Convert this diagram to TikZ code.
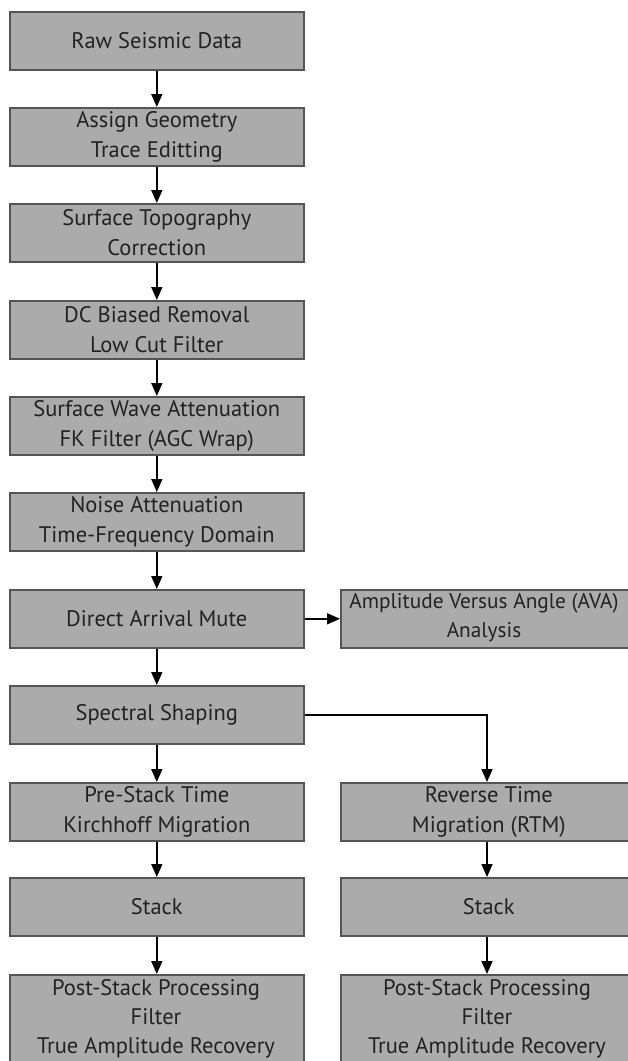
\documentclass[tikz,border=0pt]{standalone}
\usepackage{fontspec}
\setmainfont{PT Sans}
\usetikzlibrary{arrows.meta}
\definecolor{boxfill}{HTML}{ABABAB}
\definecolor{boxline}{HTML}{555555}
\definecolor{txt}{HTML}{222222}
\begin{document}
\begin{tikzpicture}[x=1pt,y=-1pt,
  box/.style={draw=boxline,fill=boxfill,line width=1.6pt,minimum height=58pt,
    inner sep=0pt,anchor=north west,align=center,text=txt,
    font=\fontsize{22.5}{30}\selectfont},
  lbox/.style={box,minimum width=294pt},
  rbox/.style={box,minimum width=296pt},
  arr/.style={-{Triangle[length=13pt,width=11pt]},line width=1.6pt,black}]
\useasboundingbox (0,0) rectangle (628,1061);
\node[lbox] (raw) at (9,11) {Raw Seismic Data};
\node[lbox] (geo) at (9,107) {Assign Geometry\\Trace Editting};
\node[lbox] (topo) at (9,203) {Surface Topography\\Correction};
\node[lbox] (dc) at (9,300) {DC Biased Removal\\Low Cut Filter};
\node[lbox] (sw) at (9,396) {Surface Wave Attenuation\\FK Filter (AGC Wrap)};
\node[lbox] (noise) at (9,492) {Noise Attenuation\\Time-Frequency Domain};
\node[lbox] (dam) at (9,589) {Direct Arrival Mute};
\node[rbox] (ava) at (340,589) {};
\node[align=center,text=txt,font=\fontsize{21.3}{29}\selectfont] (avat) at (484,618) {Amplitude Versus Angle (AVA)\\Analysis};
\node[lbox] (spec) at (9,685) {Spectral Shaping};
\node[lbox] (pstm) at (9,782) {Pre-Stack Time\\Kirchhoff Migration};
\node[rbox] (rtm) at (340,782) {Reverse Time\\Migration (RTM)};
\node[lbox] (stl) at (9,877) {Stack};
\node[rbox] (str) at (340,877) {Stack};
\node[lbox,minimum height=100pt] (ppl) at (9,974) {};
\node[rbox,minimum height=100pt] (ppr) at (340,974) {};
\node[align=center,text=txt,font=\fontsize{22.5}{29}\selectfont,anchor=north] (tl) at (156,976) {Post-Stack Processing\\Filter\\True Amplitude Recovery};
\node[align=center,text=txt,font=\fontsize{22.5}{29}\selectfont,anchor=north] (tr) at (487,976) {Post-Stack Processing\\Filter\\True Amplitude Recovery};
\draw[arr] (raw) -- (geo);
\draw[arr] (geo) -- (topo);
\draw[arr] (topo) -- (dc);
\draw[arr] (dc) -- (sw);
\draw[arr] (sw) -- (noise);
\draw[arr] (noise) -- (dam);
\draw[arr] (dam.east) -- (ava.west);
\draw[arr] (dam) -- (spec);
\draw[arr] (spec) -- (pstm);
\draw[arr] (spec.east) -| (rtm.north -| 487,0);
\draw[arr] (pstm) -- (stl);
\draw[arr] (rtm.south -| 487,0) -- (str.north -| 487,0);
\draw[arr] (stl) -- (ppl);
\draw[arr] (str.south -| 487,0) -- (ppr.north -| 487,0);
\end{tikzpicture}
\end{document}
